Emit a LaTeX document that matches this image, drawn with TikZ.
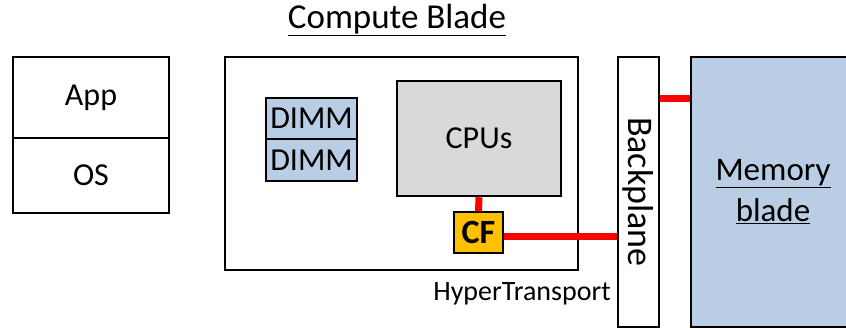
\documentclass[tikz,border=0pt]{standalone}
\usepackage{fontspec}
\setmainfont{Carlito}
\usepackage{tikz}
\usetikzlibrary{positioning,calc}
\definecolor{dimmblue}{HTML}{B9CDE5}
\definecolor{cpugray}{HTML}{D9D9D9}
\definecolor{cfgold}{HTML}{FFC000}
\tikzset{
    blk/.style={draw=black, line width=2.5pt, inner sep=0pt, font=\fontsize{32}{38}\selectfont},
    link/.style={draw=red, line width=7pt},
}

\begin{document}
\begin{tikzpicture}[x=1pt,y=-1pt]
\useasboundingbox (0,0) rectangle (846,328);
\node[blk, minimum width=156pt, minimum height=81pt] (app) at (91,97.5) {App};
\node[blk, minimum width=156pt, minimum height=75pt] (os) at (91,175.5) {OS};

\node[blk, minimum width=353pt, minimum height=213pt] (blade) at (401.5,163.5) {};
\node[font=\fontsize{35}{40}\selectfont] (title) at (397,20) {\underline{Compute Blade}};
\node[blk, fill=dimmblue, minimum width=91pt, minimum height=41pt] (dimma) at (311.5,118.5) {DIMM};
\node[blk, fill=dimmblue, minimum width=91pt, minimum height=42pt] (dimmb) at (311.5,160) {DIMM};
\node[blk, fill=cpugray, minimum width=164pt, minimum height=115pt] (cpu) at (479,138.5) {CPUs};
\node[blk, fill=cfgold, line width=1.5pt, minimum width=49pt, minimum height=41pt,
      font=\fontsize{34}{38}\selectfont\bfseries] (cf) at (478.5,232.5) {CF};
\node[font=\fontsize{28}{32}\selectfont] (ht) at (522,294) {HyperTransport};

\node[blk, minimum width=41pt, minimum height=270pt] (bp) at (638.5,192) {};
\node[rotate=-90, font=\fontsize{36}{40}\selectfont] (bptext) at (bp.center) {Backplane};
\node[blk, fill=dimmblue, minimum width=164pt, minimum height=270pt, align=center,
      font=\fontsize{33}{41}\selectfont] (mem) at (773,192) {\underline{Memory}\\\underline{blade}};

%\draw[step=10pt] (0,0) grid (846,328);
\draw[link] (cpu.south) -- (cf.north);
\draw[link] ([yshift=-4.5pt]cf.east) -- ([yshift=-4.5pt]cf.east -| bp.west);
\draw[link] (bp.east |- 0,98.5) -- (mem.west |- 0,98.5);
\end{tikzpicture}
\end{document}
